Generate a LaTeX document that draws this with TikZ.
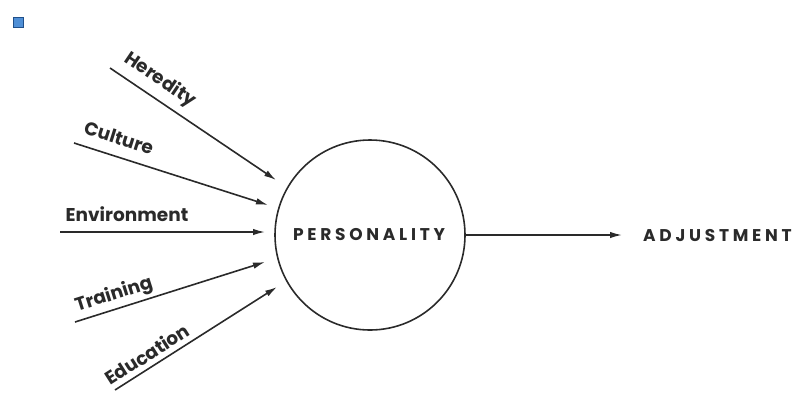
\documentclass[tikz,border=0pt]{standalone}
\usepackage{fontspec}
\setmainfont{Poppins}
\usetikzlibrary{arrows.meta}
\definecolor{ink}{HTML}{2A2A2A}
\definecolor{boxfill}{HTML}{4F8FD6}
\definecolor{boxline}{HTML}{1F4F8A}
\tikzset{
  conn/.style={line width=1.6pt, draw=ink, -{Latex[length=12pt,width=6.5pt]}},
  lbl/.style={font=\fontsize{18.5}{18.5}\selectfont\bfseries, text=ink, inner sep=0pt},
  caps/.style={font=\fontsize{17}{17}\selectfont\bfseries\addfontfeature{LetterSpace=22}, text=ink, inner sep=0pt},
}
\begin{document}
\begin{tikzpicture}[x=1pt,y=-1pt]
\useasboundingbox (0,0) rectangle (800,392);
\node[draw=boxline, fill=boxfill, line width=1pt, minimum size=10pt, inner sep=0pt] (mark) at (18,22) {};
\node[circle, draw=ink, line width=1.6pt, minimum size=190pt, inner sep=0pt] (P) at (370,235) {};
\node[caps] (Ptext) at (369,234) {PERSONALITY};
\node[caps, anchor=west] (adj) at (643,235) {ADJUSTMENT};
\draw[conn] (P.east) -- (adj.west -| 622,0);
% inputs
\coordinate (h0) at (110,68);  \coordinate (h1) at (276,180);
\coordinate (c0) at (74,143);  \coordinate (c1) at (268,205);
\coordinate (e0) at (60,232);  \coordinate (e1) at (265,232);
\coordinate (t0) at (75,322);  \coordinate (t1) at (265,262);
\coordinate (d0) at (115,390); \coordinate (d1) at (277,287);
\draw[conn] (h0) -- (h1);
\draw[conn] (c0) -- (c1);
\draw[conn] (e0) -- (e1);
\draw[conn] (t0) -- (t1);
\draw[conn] (d0) -- (d1);
\node[lbl, rotate=-34] (hl) at (160,80) {Heredity};
\node[lbl, rotate=-17.5] (cl) at (119,138) {Culture};
\node[lbl] (el) at (127,214) {Environment};
\node[lbl, rotate=17.5] (tl) at (114,295) {Training};
\node[lbl, rotate=32.5] (dl) at (147,354) {Education};
\end{tikzpicture}
\end{document}
